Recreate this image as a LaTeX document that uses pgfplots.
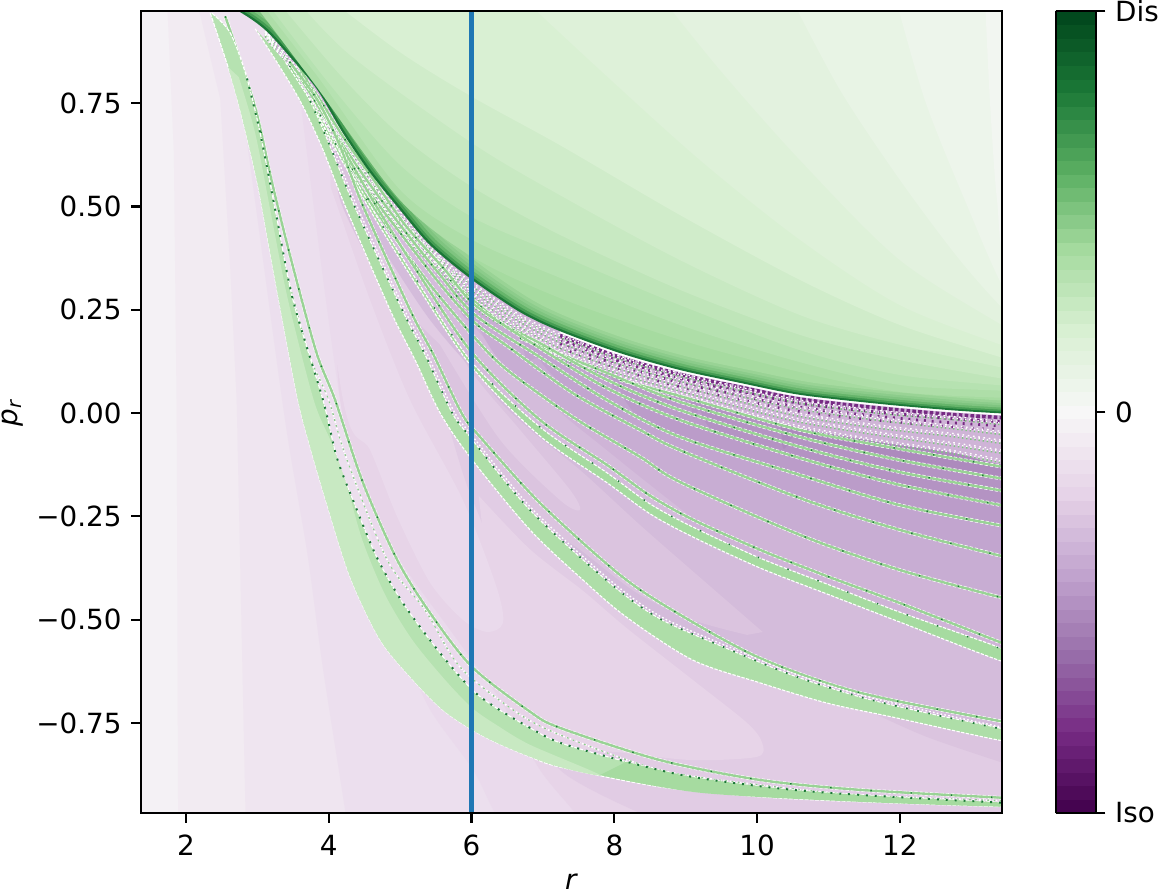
\documentclass[border=0pt]{standalone}
\usepackage{fontspec}
\setmainfont{DejaVu Sans}
\usepackage{pgfplots}
\pgfplotsset{compat=1.18}

% levels of the PRGn map, 59 steps
\definecolor{p1}{HTML}{F4F1F5}\definecolor{p2}{HTML}{F2EBF2}\definecolor{p3}{HTML}{EFE5F0}
\definecolor{p4}{HTML}{ECDFEE}\definecolor{p5}{HTML}{EADAEC}\definecolor{p6}{HTML}{E7D4E8}
\definecolor{p7}{HTML}{E1CCE4}\definecolor{p8}{HTML}{DBC4DF}\definecolor{p9}{HTML}{D4BCDB}
\definecolor{p10}{HTML}{CFB4D7}\definecolor{p11}{HTML}{C8ADD3}\definecolor{p12}{HTML}{C2A5CF}
\definecolor{p13}{HTML}{BB9CC9}\definecolor{p14}{HTML}{B493C3}\definecolor{p15}{HTML}{AD8ABD}
\definecolor{g1}{HTML}{F2F6F1}\definecolor{g2}{HTML}{EDF5EB}\definecolor{g3}{HTML}{E8F4E5}
\definecolor{g4}{HTML}{E3F2DF}\definecolor{g5}{HTML}{DEF1D9}\definecolor{g6}{HTML}{D9F0D3}
\definecolor{g7}{HTML}{D0ECCA}\definecolor{g8}{HTML}{C8E9C2}\definecolor{g9}{HTML}{BFE5B9}
\definecolor{g10}{HTML}{B6E2B1}\definecolor{g11}{HTML}{AEDEA8}\definecolor{g12}{HTML}{A6DBA0}
\definecolor{g13}{HTML}{99D395}\definecolor{g14}{HTML}{8CCC8B}\definecolor{g15}{HTML}{7FC480}
\definecolor{g17}{HTML}{66B56B}\definecolor{g20}{HTML}{459C53}\definecolor{g24}{HTML}{1B7837}
\definecolor{dpurple}{HTML}{762A83}
\definecolor{bluevline}{HTML}{1F77B4}

\pgfplotsset{
  colormap={PRGn}{rgb255=(64,0,75) rgb255=(118,42,131) rgb255=(153,112,171) rgb255=(194,165,207)
    rgb255=(231,212,232) rgb255=(247,247,247) rgb255=(217,240,211) rgb255=(166,219,160)
    rgb255=(90,174,97) rgb255=(27,120,55) rgb255=(0,68,27)},
  lev/.style={draw=none,fill=#1,smooth},
  flat/.style={draw=none,fill=#1},
}

\newcommand{\stripe}[1]{%
  \addplot[smooth,white,line width=1.3bp,dash pattern=on 1.2bp off .7bp] coordinates {#1};
  \addplot[smooth,g13,line width=.85bp] coordinates {#1};
  \addplot[smooth,g24,line width=.5bp,dash pattern=on .5bp off 14bp] coordinates {#1};
}
\newcommand{\speck}[1]{%
  \addplot[smooth,white,line width=.55bp,dash pattern=on .5bp off 1bp] coordinates {#1};
  \addplot[smooth,g15,line width=.55bp,dash pattern=on .5bp off 1bp,shift={(0bp,-.5bp)}] coordinates {#1};
  \addplot[smooth,white,line width=.5bp,dash pattern=on .6bp off 1.3bp,shift={(.3bp,.6bp)}] coordinates {#1};
}
\newcommand{\topS}[2]{%
  \addplot[lev=#1,shift={(#2,#2)}] coordinates {(2.2,1.02)(2.76,.970)(3.11,.927)(3.46,.861)(3.84,.782)(4.20,.677)(4.58,.581)(5.00,.491)(5.42,.406)(6.01,.322)(6.68,.244)(7.24,.198)(8.08,.145)(8.92,.104)(9.76,.073)(10.60,.044)(11.72,.022)(12.70,.007)(13.54,-.002)(14.6,-.01)(15,2)(2.2,2)};
}
\newcommand{\Sline}[1]{%
  \addplot[smooth,#1] coordinates {(7.24,.198)(8.08,.145)(8.92,.104)(9.76,.073)(10.60,.044)(11.72,.022)(12.70,.007)(13.54,-.002)};
}

\begin{document}
\begin{tikzpicture}
\useasboundingbox (0,0) rectangle (416.88bp,321.84bp);
\begin{axis}[
  at={(50.76bp,29.16bp)},anchor=south west,
  scale only axis,width=309.96bp,height=288.72bp,
  xmin=1.37,xmax=13.43,ymin=-0.968,ymax=0.973,
  axis on top,
  axis line style={line width=.8bp},
  every tick/.style={black,line width=.8bp},
  tick align=outside,major tick length=3.5bp,
  xtick pos=bottom,ytick pos=left,
  xtick={2,4,6,8,10,12},xticklabels={2,4,6,8,10,12},
  ytick={-0.75,-0.5,-0.25,0,0.25,0.5,0.75},
  yticklabels={−0.75,−0.50,−0.25,0.00,0.25,0.50,0.75},
  tick label style={font=\fontsize{10bp}{12bp}\selectfont},
  xticklabel style={yshift=-1bp},
  label style={font=\fontsize{10bp}{12bp}\selectfont},
  xlabel={\textit{r}},ylabel={\textit{p}\textsubscript{\textit{r}}},
  xlabel style={at={(axis description cs:0.5,0)},anchor=north,yshift=-18.5bp},
  ylabel style={at={(axis description cs:0,0.5)},anchor=south,yshift=39bp},
  colormap name=PRGn,
  point meta min=-1,point meta max=1,
  colorbar sampled,
  colorbar style={
    samples=60,
    at={(parent axis.north east)},anchor=north west,xshift=10.8bp,
    scale only axis,width=14.4bp,height=288.72bp,
    ytick={-1,0,1},yticklabels={Iso,0,Dis},
    axis line style={line width=.8bp},
    every tick/.style={black,line width=.8bp},
    tick align=outside,major tick length=3.5bp,
    ytick pos=right,yticklabel pos=right,
    tick label style={font=\fontsize{10bp}{12bp}\selectfont},
  },
]
% purple levels, lightest first
\addplot[flat=p1] coordinates {(1,2)(1,-2)(15,-2)(15,2)};
\addplot[flat=p2] coordinates {(1.73,1.02)(1.83,.63)(1.87,-.01)(1.89,-1.02)(15,-1.02)(15,1.02)};
\addplot[flat=p3] coordinates {(2.19,1.02)(2.19,.97)(2.48,.76)(2.62,.35)(2.71,.03)(2.84,-1.02)(15,-1.02)(15,1.02)};
\addplot[lev=p4] coordinates {(2.62,.95)(2.97,.51)(3.39,-.02)(3.70,-.34)(3.92,-.62)(4.28,-1.02)(4.40,-1.2)(4.5,-2)(15,-2)(15,2)(2.5,2)};
\addplot[lev=p5] coordinates {(3.60,.76)(4.16,.03)(4.65,-.33)(5.07,-.573)(5.42,-.718)(6.02,-.863)(6.33,-.968)(6.60,-1.02)(6.80,-1.2)(6.9,-2)(15,-2)(15,2)(3.5,2)};
\addplot[lev=p6] coordinates {(3.95,.9)(4.09,.273)(4.16,.031)(4.44,-.162)(5,-.356)(5.70,-.525)(6.40,-.694)(6.96,-.864)(7.45,-.968)(7.66,-1.03)(7.8,-1.2)(7.9,-2)(15,-2)(15,2)(3.9,2)};
\addplot[lev=p7] coordinates {(8.36,-.968)(7.24,-.864)(6.68,-.694)(6.47,-.549)(6.33,-.356)(5.91,-.162)(5.56,.031)(5,.273)(4.44,.515)(4.02,.685)(3.60,.878)(3.4,1.5)(15,1.5)(15,-2)(8.8,-2)(8.6,-1.2)};
\addplot[lev=p6] coordinates {(6.10,-.20)(6.82,-.33)(7.56,-.43)(8.17,-.52)(9.10,-.646)(9.86,-.750)(10.07,-.798)(10.0,-.832)(9.10,-.840)(8.17,-.823)(7.24,-.803)(6.68,-.731)(6.26,-.622)(6.12,-.549)(6.30,-.50)(6.20,-.35)};
\addplot[lev=p5] coordinates {(3.60,.782)(4.20,.031)(4.58,-.09)(4.96,-.252)(5.42,-.411)(5.88,-.501)(6.22,-.530)(6.44,-.508)(6.35,-.421)(5.88,-.211)(5.14,.031)(4.58,.273)(4.09,.515)(3.74,.685)};
\addplot[lev=p8] coordinates {(13.54,-.852)(12.38,-.784)(11.44,-.711)(10.50,-.634)(9.10,-.573)(7.80,-.356)(6.82,-.138)(6.26,.031)(5.98,.177)(5.42,.394)(4.44,.709)(3.88,.903)(3.6,1.5)(15,1.5)(15,-.852)};
\addplot[lev=p9] coordinates {(13.54,-.779)(11.44,-.702)(10.50,-.639)(9.58,-.569)(8.64,-.501)(7.94,-.428)(6.82,-.259)(5.98,-.082)(5.56,.044)(5.0,.225)(4.30,.491)(3.88,.685)(3.60,.854)(3.5,1.5)(15,1.5)(15,-.779)};
\addplot[lev=p8] coordinates {(10.08,-.530)(9.24,-.404)(8.36,-.271)(7.52,-.138)(6.82,-.041)(6.26,.056)(5.84,.201)(5.28,.370)(4.72,.540)(4.23,.636)(4.16,.515)(5,.225)(5.56,.044)(5.98,-.082)(6.82,-.247)(7.52,-.331)(8.32,-.436)(9.10,-.501)(9.86,-.537)};
\addplot[lev=p7] coordinates {(5.56,.165)(6.40,-.065)(7.24,-.211)(7.52,-.235)(7.38,-.186)(6.68,-.041)(5.98,.104)(5.42,.273)(5,.419)(4.72,.467)(4.65,.370)(5.07,.249)};
\addplot[lev=p10] coordinates {(13.54,-.590)(12,-.496)(10.98,-.433)(10.04,-.370)(9.10,-.298)(7.90,-.155)(6.96,-.041)(6.01,.116)(5.23,.334)(4.72,.467)(4.25,.588)(3.88,.714)(3.46,.854)(3.2,1.5)(15,1.5)(15,-.59)};
\addplot[lev=p9] coordinates {(9.09,-.254)(8.50,-.174)(7.80,-.077)(7.24,.002)(6.40,.140)(5.84,.249)(5.42,.346)(5,.443)(4.58,.540)(4.44,.491)(4.86,.370)(5.42,.225)(6.05,.099)(6.96,-.053)(7.90,-.162)(8.92,-.264)};
\addplot[lev=p11] coordinates {(13.54,-.445)(12,-.375)(10.6,-.290)(8.92,-.162)(8.36,-.102)(7.42,-.005)(6.50,.109)(6.12,.201)(5.70,.370)(5.5,1.5)(15,1.5)(15,-.445)};
\addplot[lev=p12] coordinates {(13.54,-.348)(12,-.281)(10.6,-.203)(8.92,-.087)(8.36,-.039)(7.42,.051)(6.96,.128)(6.68,.249)(6.6,1.5)(15,1.5)(15,-.348)};
\addplot[lev=p13] coordinates {(13.54,-.276)(12,-.220)(10.6,-.148)(8.92,-.056)(8.36,-.012)(8.08,.056)(7.94,.177)(7.9,1.5)(15,1.5)(15,-.276)};
\addplot[lev=p14] coordinates {(13.54,-.225)(12,-.172)(10.6,-.106)(9.48,-.053)(9.20,.007)(9.06,.104)(9,1.5)(15,1.5)(15,-.225)};
\addplot[lev=p15] coordinates {(13.54,-.157)(12,-.109)(10.6,-.056)(10.32,.031)(10.3,1.5)(15,1.5)(15,-.157)};

% speckled zone under the separatrix
\addplot[lev=p10] coordinates {(3.11,.927)(3.60,.832)(4.20,.677)(5.00,.491)(5.56,.382)(6.01,.322)(6.68,.244)(7.24,.198)(8.08,.145)(8.92,.104)(9.76,.073)(10.60,.044)(11.72,.022)(12.70,.007)(13.54,-.002)(13.54,-.121)(12.70,-.094)(11.72,-.070)(10.60,-.036)(9.76,.002)(8.92,.044)(8.08,.085)(7.24,.135)(6.68,.189)(6.01,.261)(5.56,.346)(5.00,.438)(4.20,.627)(3.60,.777)};
\Sline{dpurple,line width=1.3bp,shift={(0bp,-1.5bp)},dash pattern=on 1.3bp off .8bp}
\Sline{dpurple,line width=1.1bp,shift={(0bp,-3bp)},dash pattern=on .9bp off 1.5bp}
\Sline{dpurple,line width=1bp,shift={(0bp,-4.5bp)},dash pattern=on .7bp off 2.1bp}
\Sline{dpurple,line width=.9bp,shift={(0bp,-6bp)},dash pattern=on .6bp off 3.1bp}
\speck{(3.11,.924)(3.60,.820)(4.20,.668)(5.00,.481)(5.56,.375)(6.01,.310)(6.68,.232)(7.24,.186)(8.08,.133)(8.92,.092)(9.76,.058)(10.60,.027)(11.72,.002)(12.70,-.012)(13.54,-.027)}
\speck{(3.11,.922)(3.60,.808)(4.20,.658)(5.00,.469)(5.56,.368)(6.01,.298)(6.68,.223)(7.24,.174)(8.08,.121)(8.92,.080)(9.76,.044)(10.60,.012)(11.72,-.015)(12.70,-.034)(13.54,-.051)}
\speck{(3.11,.919)(3.60,.798)(4.20,.646)(5.00,.460)(5.56,.361)(6.01,.286)(6.68,.211)(7.24,.160)(8.08,.109)(8.92,.068)(9.76,.031)(10.60,-.005)(11.72,-.034)(12.70,-.053)(13.54,-.073)}
\speck{(3.11,.917)(3.60,.786)(4.20,.636)(5.00,.448)(5.56,.353)(6.01,.273)(6.68,.201)(7.24,.148)(8.08,.097)(8.92,.056)(9.76,.017)(10.60,-.019)(11.72,-.051)(12.70,-.075)(13.54,-.097)}
\speck{(3.11,.915)(3.60,.777)(4.20,.627)(5.00,.438)(5.56,.346)(6.01,.261)(6.68,.189)(7.24,.135)(8.08,.085)(8.92,.044)(9.76,.002)(10.60,-.036)(11.72,-.070)(12.70,-.094)(13.54,-.121)}

% thin stripes of the fan
\stripe{(8.08,.080)(8.92,.041)(10.6,-.041)(12,-.087)(13.54,-.133)}
\stripe{(6.68,.181)(7.90,.097)(8.92,.027)(10.6,-.058)(12,-.114)(13.54,-.162)}
\stripe{(5.70,.322)(6.40,.220)(6.96,.169)(7.90,.080)(8.92,.007)(10.6,-.082)(12,-.143)(13.54,-.191)}
\stripe{(3.60,.825)(3.85,.765)(4.23,.661)(4.65,.559)(5.07,.455)(5.63,.346)(6.05,.261)(6.96,.157)(7.90,.060)(8.92,-.017)(10.6,-.109)(12,-.174)(13.54,-.227)}
\stripe{(3.50,.84)(3.77,.765)(4.09,.677)(4.51,.569)(5,.455)(5.56,.334)(6.05,.237)(6.96,.135)(7.90,.031)(8.92,-.058)(10.6,-.150)(12,-.223)(13.54,-.276)}
\stripe{(3.45,.84)(3.74,.750)(4.09,.653)(4.51,.547)(5,.436)(5.56,.312)(6.05,.218)(6.50,.162)(7.42,.048)(8.36,-.041)(8.92,-.090)(10.6,-.206)(12,-.283)(13.54,-.351)}
\stripe{(3.35,.85)(3.64,.77)(4.02,.665)(4.39,.56)(4.86,.44)(5.42,.31)(6.05,.181)(6.50,.104)(7.42,-.010)(8.36,-.106)(8.92,-.167)(10.6,-.295)(12,-.380)(13.54,-.452)}
\stripe{(3.55,.85)(3.88,.745)(4.25,.625)(4.72,.485)(5.23,.345)(6.01,.145)(6.96,-.017)(7.90,-.126)(8.50,-.200)(9.10,-.258)(10.04,-.331)(10.98,-.395)(12,-.460)(13.54,-.564)}

% band E
\addplot[lev=g12,draw=white,line width=.4bp,dash pattern=on 1.2bp off .5bp] coordinates {(3.46,.83)(3.88,.709)(4.25,.590)(4.72,.450)(5.23,.310)(6.01,.110)(6.96,-.056)(7.90,-.169)(8.50,-.244)(9.10,-.300)(10.04,-.375)(10.98,-.438)(12,-.506)(13.54,-.607)(13.54,-.578)(12,-.482)(10.98,-.414)(10.04,-.351)(9.10,-.276)(8.50,-.220)(7.90,-.145)(6.96,-.034)(6.01,.122)(5.23,.322)(4.72,.462)(4.25,.602)(3.88,.721)};
\addplot[smooth,g24,line width=.5bp,dash pattern=on .5bp off 11bp] coordinates {(3.88,.721)(4.25,.602)(4.72,.462)(5.23,.322)(6.01,.122)(6.96,-.034)(7.90,-.145)(8.50,-.220)(9.10,-.276)(10.04,-.351)(10.98,-.414)(12,-.482)(13.54,-.578)};

% band C and its side strip
\stripe{(3.45,.85)(3.85,.755)(4.16,.645)(4.48,.501)(5.14,.249)(5.47,.140)(5.86,0)(6.12,-.058)(6.96,-.218)(8.08,-.392)(8.88,-.484)(10.04,-.593)(11.44,-.677)(13.54,-.750)}
\addplot[lev=g11,draw=white,line width=.4bp,dash pattern=on 1.2bp off .5bp] coordinates {(2.97,.93)(3.27,.85)(3.60,.755)(3.90,.645)(4.23,.501)(4.86,.249)(5.21,.128)(5.56,0)(5.98,-.107)(6.82,-.283)(7.56,-.404)(8.17,-.494)(9.10,-.598)(10.04,-.653)(10.98,-.702)(11.90,-.736)(13.54,-.796)(13.54,-.769)(12.38,-.726)(11.44,-.687)(10.5,-.635)(9.58,-.570)(8.64,-.498)(7.94,-.412)(6.82,-.235)(5.98,-.058)(5.73,0)(5.35,.141)(5.03,.249)(4.36,.501)(4.02,.645)(3.74,.755)(3.39,.85)};
\addplot[smooth,g24,line width=.6bp,dash pattern=on .6bp off 3.5bp] coordinates {(3.74,.755)(4.02,.645)(4.36,.501)(5.03,.249)(5.35,.141)(5.73,0)(5.98,-.058)(6.82,-.235)(7.94,-.412)(8.64,-.498)(9.58,-.570)(10.5,-.635)(11.44,-.687)(12.38,-.726)(13.54,-.769)};
\addplot[smooth,white,line width=.5bp,dash pattern=on .6bp off .8bp,shift={(.6bp,.6bp)}] coordinates {(3.74,.755)(4.02,.645)(4.36,.501)(5.03,.249)(5.35,.141)(5.73,0)(5.98,-.058)(6.82,-.235)(7.94,-.412)(8.64,-.498)(9.58,-.570)(10.5,-.635)(11.44,-.687)(12.38,-.726)(13.54,-.769)};

% strip B, the speckled line and the big band A
\stripe{(2.55,.96)(2.76,.854)(2.99,.726)(3.22,.547)(3.50,.353)(3.83,.145)(4.09,.031)(4.48,-.169)(4.96,-.356)(5.42,-.484)(6.01,-.615)(6.82,-.723)(7.24,-.762)(8.64,-.840)(10.04,-.888)(11.44,-.912)(13.54,-.932)}
\addplot[smooth,white,line width=.6bp,dash pattern=on .6bp off .6bp] coordinates {(2.93,.726)(3.12,.547)(3.39,.353)(3.72,.145)(4.00,.031)(4.24,-.106)(4.82,-.356)(5.35,-.477)(5.84,-.615)(6.62,-.723)(7.24,-.779)(8.64,-.864)(10.04,-.900)(11.44,-.924)(13.54,-.939)};
\addplot[smooth,g14,line width=.45bp,dash pattern=on .6bp off 1.6bp] coordinates {(2.93,.726)(3.12,.547)(3.39,.353)(3.72,.145)(4.00,.031)(4.24,-.106)(4.82,-.356)(5.35,-.477)(5.84,-.615)(6.62,-.723)(7.24,-.779)(8.64,-.864)(10.04,-.900)(11.44,-.924)(13.54,-.939)};
\addplot[lev=g10,draw=white,line width=.4bp,dash pattern=on 1.4bp off .5bp] coordinates {(2.34,.968)(2.59,.837)(2.76,.733)(3.00,.557)(3.18,.387)(3.32,.256)(3.57,.031)(3.74,-.082)(3.97,-.218)(4.30,-.397)(4.72,-.549)(5.18,-.646)(5.60,-.719)(6.01,-.767)(6.35,-.798)(6.82,-.832)(7.24,-.857)(8.64,-.905)(10.04,-.929)(11.44,-.941)(13.54,-.953)(13.54,-.944)(11.90,-.929)(10.5,-.912)(9.10,-.881)(8.17,-.844)(7.24,-.798)(6.82,-.762)(6.35,-.714)(6.01,-.670)(5.56,-.581)(5.04,-.460)(4.67,-.348)(4.34,-.211)(4.11,-.106)(3.92,.031)(3.50,.273)(3.27,.474)(3.04,.677)(2.85,.813)(2.62,.920)(2.36,.968)};
\addplot[lev=g8] coordinates {(2.59,.837)(2.76,.733)(3.00,.557)(3.18,.387)(3.32,.256)(3.57,.031)(3.74,-.082)(3.97,-.218)(4.30,-.397)(4.72,-.549)(5.18,-.646)(5.60,-.719)(6.01,-.767)(6.35,-.798)(6.82,-.832)(7.24,-.857)(7.80,-.876)(6.82,-.803)(6.35,-.755)(6.01,-.714)(5.63,-.646)(5.17,-.549)(4.79,-.440)(4.47,-.307)(4.23,-.162)(4.02,-.065)(3.79,.031)(3.43,.273)(3.20,.474)(2.97,.677)(2.74,.813)};
\addplot[lev=g12] coordinates {(7.80,-.876)(9.20,-.919)(11.44,-.941)(13.54,-.953)(13.54,-.944)(11.90,-.929)(10.5,-.912)(9.10,-.881)(8.17,-.844)};
\addplot[smooth,g24,line width=.7bp,dash pattern=on .7bp off 2.5bp] coordinates {(13.54,-.944)(11.90,-.929)(10.5,-.912)(9.10,-.881)(8.17,-.844)(7.24,-.798)(6.82,-.762)(6.35,-.714)(6.01,-.670)(5.56,-.581)(5.04,-.460)(4.67,-.348)(4.34,-.211)(4.11,-.106)(3.92,.031)(3.50,.273)(3.27,.474)(3.04,.677)(2.85,.813)};

% white gap along the separatrix
\Sline{white,line width=1.4bp}

% green side, dark layers at the separatrix first
\topS{g24}{0bp}
\topS{g20}{.63bp}
\topS{g17}{1.26bp}
\topS{g15}{2bp}
\topS{g14}{2.77bp}
\topS{g13}{3.53bp}
\topS{g12}{4.4bp}
\addplot[lev=g11] coordinates {(2.87,1.01)(3.81,.794)(5,.515)(6.01,.378)(7.24,.278)(8.92,.177)(10.6,.099)(12,.051)(13.54,.036)(14.6,.03)(15,2)(2.87,2)};
\addplot[lev=g10] coordinates {(2.97,1.01)(3.88,.806)(5,.540)(6.01,.419)(7.24,.327)(8.92,.213)(10.6,.123)(12,.068)(13.54,.053)(14.6,.04)(15,2)(2.97,2)};
\addplot[lev=g9] coordinates {(3.06,1.01)(4.02,.794)(5.0,.600)(6.01,.474)(7.24,.382)(8.92,.261)(10.6,.152)(12,.092)(13.54,.065)(14.6,.05)(15,2)(3.06,2)};
\addplot[lev=g8] coordinates {(3.22,1.01)(4.16,.818)(5.00,.673)(6.01,.547)(7.24,.431)(8.92,.298)(10.6,.189)(12,.128)(13.54,.080)(14.6,.05)(15,2)(3.22,2)};
\addplot[lev=g7] coordinates {(3.50,1.01)(4.30,.866)(6.01,.653)(7.24,.527)(8.92,.370)(10.6,.237)(12,.165)(13.54,.106)(14.6,.07)(15,2)(3.50,2)};
\addplot[lev=g6] coordinates {(3.95,1.01)(5.00,.873)(6.01,.765)(7.24,.648)(8.92,.479)(10.60,.322)(12.00,.213)(13.54,.128)(14.6,.07)(15,2)(3.95,2)};
\addplot[lev=g5] coordinates {(6.68,1.01)(7.80,.830)(9.20,.612)(10.6,.419)(12,.261)(13.54,.157)(14.6,.09)(15,2)(6.68,2)};
\addplot[lev=g4] coordinates {(8.64,1.01)(9.48,.830)(10.6,.612)(12,.370)(13.54,.201)(14.6,.09)(15,2)(8.64,2)};
\addplot[lev=g3] coordinates {(10.46,1.01)(11.16,.782)(12,.564)(12.84,.370)(13.54,.235)(14.6,.06)(15,2)(10.46,2)};
\addplot[lev=g2] coordinates {(11.93,1.01)(12.35,.757)(12.91,.515)(13.54,.273)(14.6,0)(15,2)(11.93,2)};
\addplot[lev=g1] coordinates {(13.19,1.01)(13.26,.757)(13.36,.515)(13.54,.322)(14.6,0)(15,2)(13.19,2)};

\addplot[bluevline,line width=1.5bp] coordinates {(6,-0.968)(6,0.973)};
\end{axis}
\end{tikzpicture}
\end{document}
